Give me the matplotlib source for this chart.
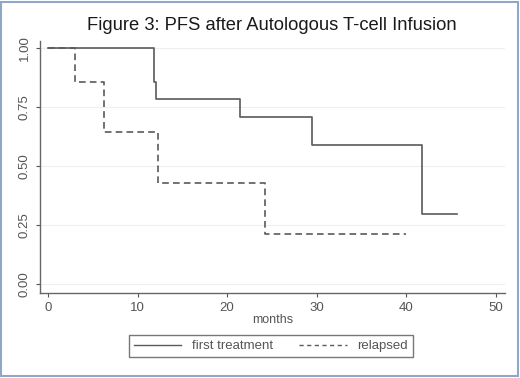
import matplotlib.pyplot as plt
from matplotlib.patches import Rectangle
from matplotlib.lines import Line2D

plt.rcParams['font.family'] = ['Liberation Sans', 'DejaVu Sans']

# Kaplan-Meier step data (time in months, survival)
first_t = [0, 11.8, 12.1, 21.5, 29.5, 41.8, 45.7]
first_s = [1.0, 0.857, 0.786, 0.707, 0.589, 0.295, 0.295]
relapsed_t = [0, 3.0, 6.2, 12.3, 24.2, 40.0]
relapsed_s = [1.0, 0.857, 0.643, 0.429, 0.214, 0.214]

xticks = [0, 10, 20, 30, 40, 50]
yticks = [0.0, 0.25, 0.5, 0.75, 1.0]
ytick_labels = ['0.00', '0.25', '0.50', '0.75', '1.00']

line_col = '#5a5a5a'
text_col = '#555555'

fig = plt.figure(figsize=(5.2, 3.78), dpi=100)
fig.patch.set_facecolor('white')
ax = fig.add_axes([40 / 520, 1 - 293 / 378, 465 / 520, 252 / 378])

ax.step(first_t, first_s, where='post', color=line_col, lw=1.2,
        label='first treatment')
ax.step(relapsed_t, relapsed_s, where='post', color=line_col, lw=1.2,
        linestyle=(0, (4, 2.5)), label='relapsed')

ax.set_xlim(-0.9, 51.06)
ax.set_ylim(-0.038, 1.03)
ax.set_xticks(xticks)
ax.set_yticks(yticks)
ax.set_yticklabels(ytick_labels, rotation=90, va='center')
ax.tick_params(colors=text_col, labelsize=9.5, length=3, width=0.8)
for sp in ['top', 'right']:
    ax.spines[sp].set_visible(False)
for sp in ['left', 'bottom']:
    ax.spines[sp].set_color('#666666')
    ax.spines[sp].set_linewidth(1.0)
ax.yaxis.grid(True, color='#eeeeee', lw=0.8)
ax.set_axisbelow(True)

ax.set_xlabel('months', color=text_col, fontsize=9, labelpad=0)
fig.text(272 / 520, 1 - 25 / 378,
         'Figure 3: PFS after Autologous T-cell Infusion',
         ha='center', va='center', fontsize=13.2, color='#1a1a1a')

handles = [Line2D([], [], color=line_col, lw=1.0),
           Line2D([], [], color=line_col, lw=1.0, linestyle=(0, (3, 2.5)))]
leg = fig.legend(handles, ['first treatment', 'relapsed'], ncol=2,
                 loc='center', bbox_to_anchor=(271 / 520, 1 - 346 / 378),
                 frameon=True, fancybox=False, fontsize=9.5,
                 handlelength=3.6, handletextpad=0.8, columnspacing=2.0,
                 borderpad=0.4, labelcolor=text_col)
leg.get_frame().set_edgecolor('#555555')
leg.get_frame().set_linewidth(1.0)

fig.patches.append(Rectangle((0.002, 0.004), 0.994, 0.992,
                             transform=fig.transFigure, fill=False,
                             edgecolor='#8fa8c8', lw=1.5))

fig.savefig('out.png', dpi=100)
